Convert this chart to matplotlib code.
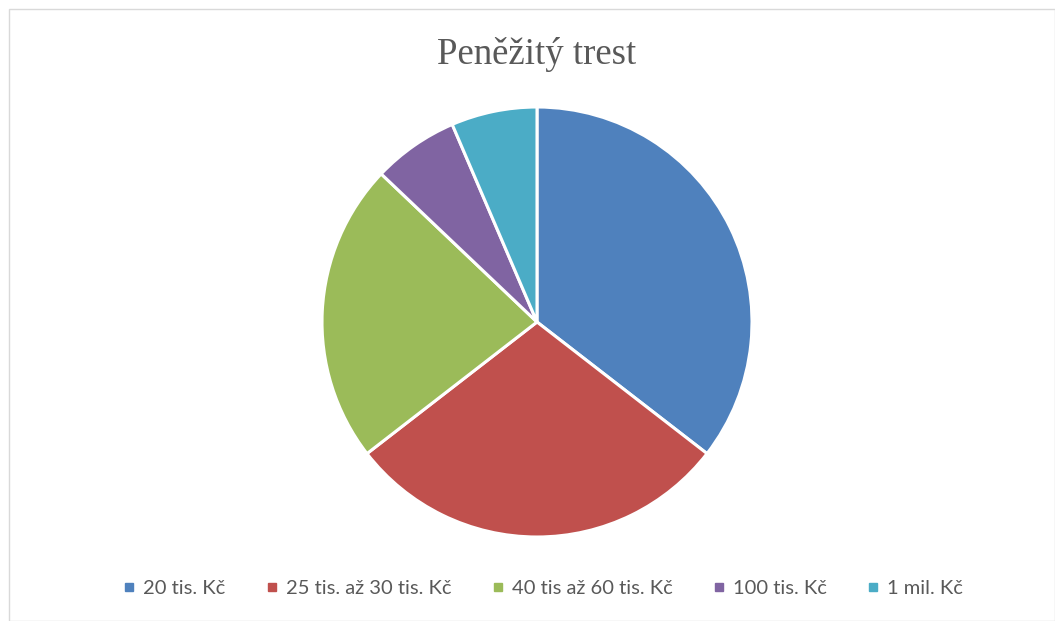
import matplotlib
matplotlib.use("Agg")
import matplotlib.pyplot as plt
from matplotlib.patches import Rectangle
from matplotlib.lines import Line2D

categories = ["20 tis. Kč", "25 tis. až 30 tis. Kč", "40 tis až 60 tis. Kč", "100 tis. Kč", "1 mil. Kč"]
values = [11, 9, 7, 2, 2]
colors = ["#4F81BD", "#C0504D", "#9BBB59", "#8064A2", "#4BACC6"]
title = "Peněžitý trest"

W, H = 1055, 621
fig = plt.figure(figsize=(W / 100, H / 100), dpi=100)
fig.patch.set_facecolor("white")

# chart border
fig.add_artist(Rectangle((9 / W, 0), (W - 9) / W, (H - 9) / H, transform=fig.transFigure,
                         fill=False, edgecolor="#D9D9D9", linewidth=1))

cx, cy, r = 537, 322, 215
ax = fig.add_axes([(cx - r) / W, (H - cy - r) / H, 2 * r / W, 2 * r / H])
ax.pie(values, colors=colors, startangle=90, counterclock=False, radius=1,
       wedgeprops=dict(edgecolor="white", linewidth=2.2))
ax.set_xlim(-1.0, 1.0)
ax.set_ylim(-1.0, 1.0)
ax.set_aspect("equal")
ax.axis("off")

fig.text(537 / W, 1 - 54 / H, title, ha="center", va="center",
         fontsize=26.5, color="#595959", family="Liberation Serif")

handles = [Line2D([0], [0], marker="s", linestyle="none", markersize=6,
                  markerfacecolor=c, markeredgecolor=c) for c in colors]
leg = fig.legend(handles, categories, loc="center", bbox_to_anchor=(541 / W, 1 - 588 / H),
                 ncol=5, frameon=False, handletextpad=0.2, columnspacing=1.8,
                 handlelength=1.0, prop={"family": "Lato", "size": 14.5})
for t in leg.get_texts():
    t.set_color("#595959")

fig.savefig("out.png", dpi=100)
